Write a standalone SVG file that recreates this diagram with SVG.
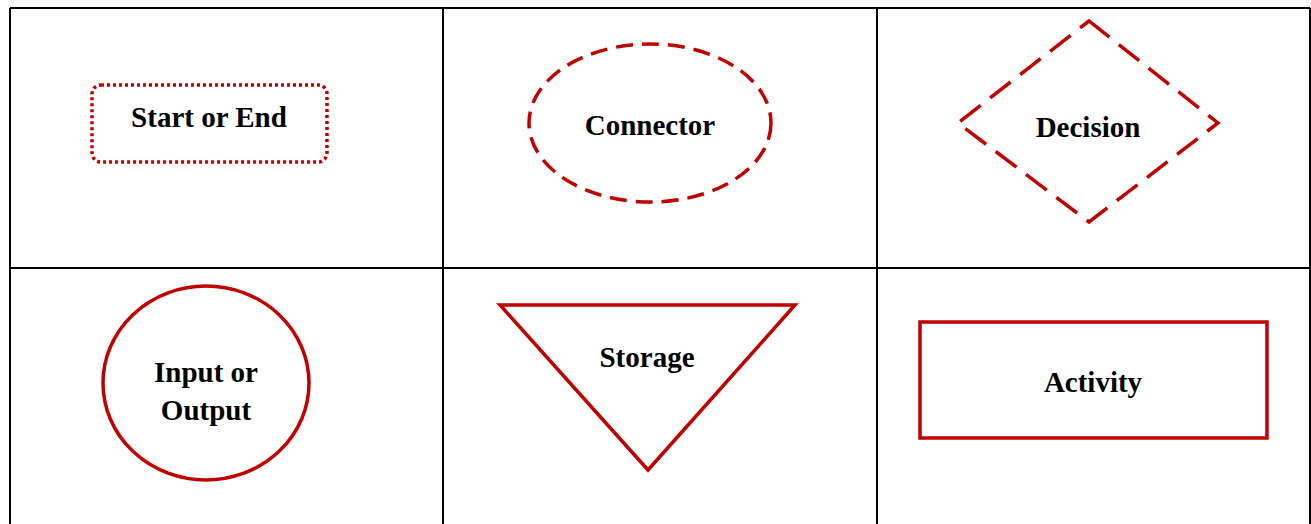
<svg xmlns="http://www.w3.org/2000/svg" width="1311" height="524" viewBox="0 0 1311 524">
  <style>
    .grid { stroke: #000; stroke-width: 2; fill: none; }
    .shape { fill: none; stroke: #C00000; stroke-width: 3.5; }
    .label { font-family: "Liberation Serif", "Times New Roman", serif; font-weight: bold; font-size: 29px; fill: #000; text-anchor: middle; }
  </style>
  <rect width="1311" height="524" fill="#fff"/>
  <!-- table grid -->
  <g id="table">
    <path class="grid" d="M10,8 H1310 M10,268 H1310 M10,8 V524 M443,8 V524 M877,8 V524 M1310,8 V524"/>
  </g>
  <g id="start-end">
    <rect class="shape" x="92" y="85" width="235" height="77" rx="9" stroke-dasharray="3 3"/>
    <text class="label" x="209" y="127">Start or End</text>
  </g>
  <g id="connector">
    <ellipse class="shape" cx="650" cy="123" rx="121" ry="79" stroke-dasharray="17 9"/>
    <text class="label" x="650" y="135">Connector</text>
  </g>
  <g id="decision">
    <polygon class="shape" points="1089,21 1218,123 1089,222 958,123" stroke-dasharray="26 12"/>
    <text class="label" x="1088" y="137">Decision</text>
  </g>
  <g id="input-output">
    <ellipse class="shape" cx="206" cy="383" rx="103" ry="97"/>
    <text class="label" x="206" y="382">Input or</text>
    <text class="label" x="206" y="420">Output</text>
  </g>
  <g id="storage">
    <polygon class="shape" points="500,305 795,305 648,470"/>
    <text class="label" x="647" y="367">Storage</text>
  </g>
  <g id="activity">
    <rect class="shape" x="920" y="322" width="347" height="116" stroke-width="4"/>
    <text class="label" x="1093" y="392">Activity</text>
  </g>
  <g id="connectors"></g>
</svg>
